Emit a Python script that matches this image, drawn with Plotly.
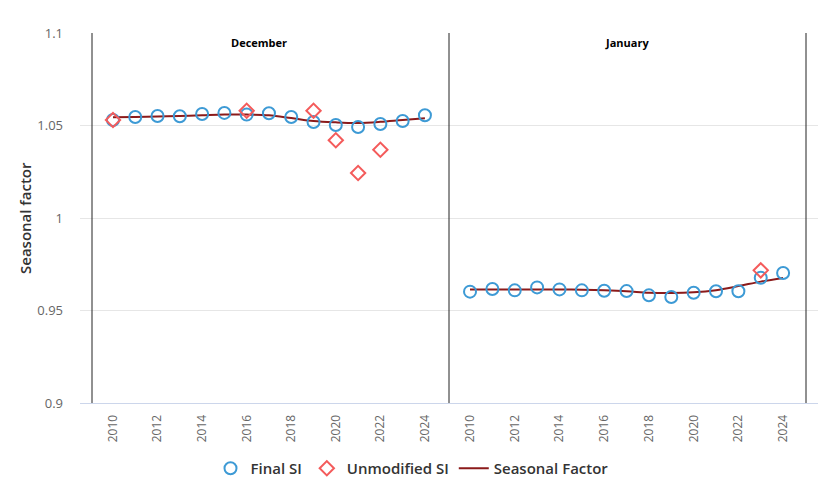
import plotly.graph_objects as go

years = list(range(2010, 2025))

dec_final = [1.0530, 1.0546, 1.0551, 1.0550, 1.0562, 1.0568, 1.0559, 1.0566,
             1.0546, 1.0519, 1.0503, 1.0492, 1.0508, 1.0524, 1.0555]
dec_unmod = [1.0530, None, None, None, None, None, 1.0580, None,
             None, 1.0580, 1.0420, 1.0243, 1.0369, None, None]
dec_sf = [1.0544, 1.0546, 1.0549, 1.0551, 1.0555, 1.0559, 1.0559, 1.0555,
          1.0540, 1.0524, 1.0517, 1.0514, 1.0520, 1.0530, 1.0539]

jan_final = [0.9602, 0.9616, 0.9609, 0.9625, 0.9614, 0.9609, 0.9607, 0.9605,
             0.9582, 0.9573, 0.9596, 0.9604, 0.9604, 0.9677, 0.9703]
jan_unmod = [None] * 13 + [0.9717, None]
jan_sf = [0.9613, 0.9614, 0.9614, 0.9614, 0.9614, 0.9612, 0.9609, 0.9604,
          0.9596, 0.9594, 0.9598, 0.9610, 0.9632, 0.9656, 0.9676]

panel_titles = ["December", "January"]
y_ticks = [0.9, 0.95, 1.0, 1.05, 1.1]
y_ticktext = ["0.9", "0.95", "1", "1.05", "1.1"]

BLUE = "#3d9ad5"
RED = "#f45b5b"
DARK = "#8b1a1a"
FONT = "Open Sans"

fig = go.Figure()
panels = [("x", dec_final, dec_unmod, dec_sf), ("x2", jan_final, jan_unmod, jan_sf)]
for i, (xa, fin, unm, sf) in enumerate(panels):
    show = i == 0
    fig.add_trace(go.Scatter(x=years, y=sf, xaxis=xa, yaxis="y", mode="lines",
                             line=dict(color=DARK, width=2, shape="spline"),
                             name="Seasonal Factor", legendgroup="sf",
                             showlegend=show, legendrank=3))
    fig.add_trace(go.Scatter(x=years, y=fin, xaxis=xa, yaxis="y", mode="markers",
                             marker=dict(symbol="circle-open", size=12, color=BLUE,
                                         line=dict(width=2, color=BLUE)),
                             name="Final SI", legendgroup="fin",
                             showlegend=show, legendrank=1))
    fig.add_trace(go.Scatter(x=years, y=unm, xaxis=xa, yaxis="y", mode="markers",
                             marker=dict(symbol="diamond-open", size=11, color=RED,
                                         line=dict(width=2, color=RED)),
                             name="Unmodified SI", legendgroup="unm",
                             showlegend=show, legendrank=2))

# page body has an 8px margin: draw in an 824x477 figure offset by 8px
OFF = 8
W, H = 832 - OFF, 485 - OFF
L, R, T, B = 80 - OFF, 14, 33 - OFF, 82
pw = W - L - R
ph = H - T - B

def px(xpix):
    return (xpix - OFF - L) / pw

xcommon = dict(tickmode="array", tickvals=list(range(2010, 2025, 2)),
               ticktext=[str(y) for y in range(2010, 2025, 2)],
               tickangle=-90, tickfont=dict(size=12, color="#666666", family=FONT),
               showgrid=False, zeroline=False, showline=True, linecolor="#ccd6eb",
               linewidth=1, ticks="outside", ticklen=6, tickcolor="rgba(0,0,0,0)",
               anchor="y", automargin=False)

fig.update_layout(
    width=W, height=H,
    margin=dict(l=L, r=R, t=T, b=B, autoexpand=False),
    paper_bgcolor="white", plot_bgcolor="white",
    font=dict(family=FONT, color="#333333"),
    xaxis=dict(domain=[0, 0.5], range=[2008.52, 2025.08], **xcommon),
    xaxis2=dict(domain=[0.5, 1], range=[2009.06, 2025.56], **xcommon),
    yaxis=dict(range=[0.9, 1.1], tickmode="array", tickvals=y_ticks, ticktext=y_ticktext,
               tickfont=dict(size=13, color="#666666", family=FONT),
               showgrid=True, gridcolor="#e6e6e6", gridwidth=1, zeroline=False,
               showline=False, ticks="", ticklabelstandoff=16, anchor="x",
               automargin=False),
    showlegend=True,
    legend=dict(orientation="h", x=px(412), xanchor="center", y=-B / ph,
                yanchor="bottom",
                font=dict(size=15, color="#333333", family=FONT, weight=600),
                traceorder="normal"),
)

# panel borders
for xp in [92, 449, 806]:
    fig.add_shape(type="line", xref="paper", yref="paper", x0=px(xp), x1=px(xp),
                  y0=0, y1=1, line=dict(color="#222222", width=1))

# panel titles
for xp, t in zip([259, 627], panel_titles):
    fig.add_annotation(x=px(xp), y=1.1, xref="paper", yref="y", yshift=-9,
                       xanchor="center", text="<b>" + t + "</b>", showarrow=False,
                       font=dict(size=11, color="#000000", family=FONT))

fig.add_annotation(x=px(25), y=0.5, xref="paper", yref="paper", text="Seasonal factor",
                   textangle=-90, showarrow=False, xanchor="center", yanchor="middle",
                   font=dict(size=15, color="#333333", family=FONT, weight=600))

fig.write_html("out.html")
